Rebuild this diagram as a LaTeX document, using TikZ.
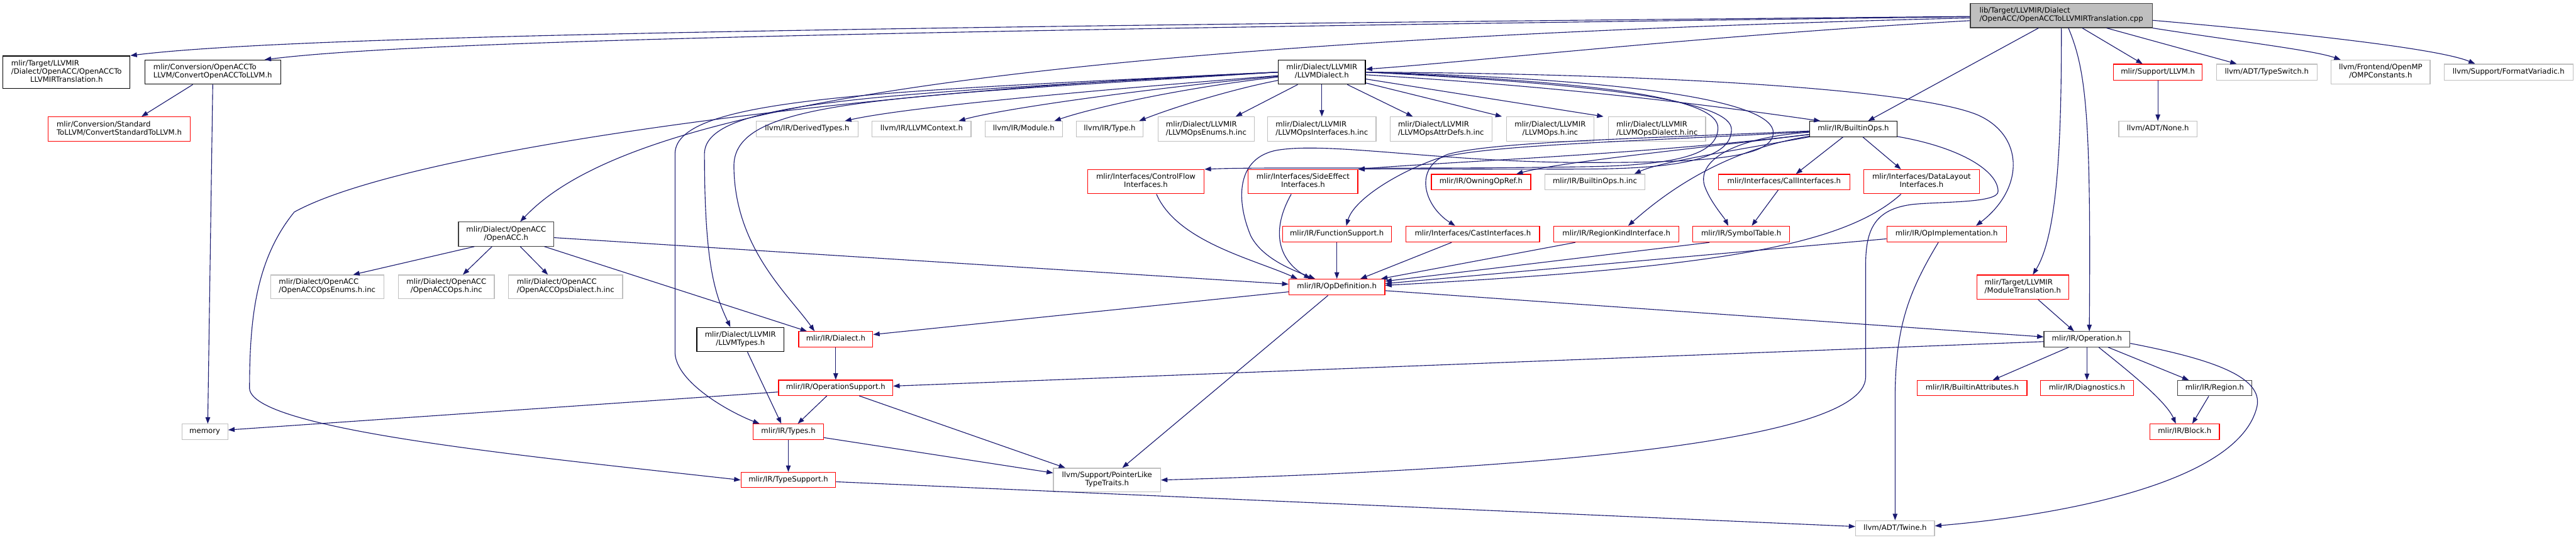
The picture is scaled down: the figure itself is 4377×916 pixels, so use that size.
\documentclass[tikz,border=0pt]{standalone}
\usepackage{fontspec}
\setmainfont{DejaVu Sans}
\usetikzlibrary{arrows.meta}
\definecolor{edgecol}{HTML}{191970}
\definecolor{redb}{HTML}{FF0000}
\definecolor{grayb}{HTML}{BFBFBF}
\definecolor{darkb}{HTML}{404040}
\newcommand{\lone}[1]{\begin{tabular}{@{}c@{}}#1\end{tabular}}
\newcommand{\ltwo}[2]{\begin{tabular}{@{}l@{}}#1\\\multicolumn{1}{@{}c@{}}{#2}\end{tabular}}
\newcommand{\lthree}[3]{\begin{tabular}{@{}l@{}}#1\\#2\\\multicolumn{1}{@{}c@{}}{#3}\end{tabular}}
\begin{document}
\begin{tikzpicture}[x=1pt,y=-1pt,
 nd/.style={draw, line width=1.3pt, fill=white, inner sep=0pt, font=\fontsize{12.5}{14}\selectfont, text=black},
 rn/.style={nd, draw=redb},
 gn/.style={nd, draw=grayb},
 bn/.style={nd, draw=black},
 dn/.style={nd, draw=darkb},
 sz/.style 2 args={minimum width=#1pt, minimum height=#2pt},
 e/.style={draw=edgecol, line width=1.2pt, -{Triangle[length=11pt,width=8pt]}},
]
\path[use as bounding box, fill=white] (0,0) rectangle (4377,916);

% nodes
\node[dn,sz={309}{41},fill=grayb] (root) at (3502.5,26.5) {\ltwo{lib/Target/LLVMIR/Dialect}{/OpenACC/OpenACCToLLVMIRTranslation.cpp}};
\node[bn,sz={216}{55}] (tr) at (113,122.5) {\lthree{mlir/Target/LLVMIR}{/Dialect/OpenACC/OpenACCTo}{LLVMIRTranslation.h}};
\node[bn,sz={231}{41}] (cv) at (361.5,122.5) {\ltwo{mlir/Conversion/OpenACCTo}{LLVM/ConvertOpenACCToLLVM.h}};
\node[rn,sz={241}{41}] (cs) at (202.5,219) {\ltwo{mlir/Conversion/Standard}{ToLLVM/ConvertStandardToLLVM.h}};
\node[bn,sz={148}{41}] (ld) at (2246,122.5) {\ltwo{mlir/Dialect/LLVMIR}{/LLVMDialect.h}};
\node[rn,sz={151}{27}] (ls) at (3666.5,122.5) {\lone{mlir/Support/LLVM.h}};
\node[gn,sz={171}{27}] (ts) at (3851.5,122.5) {\lone{llvm/ADT/TypeSwitch.h}};
\node[gn,sz={168}{41}] (om) at (4045,122.5) {\ltwo{llvm/Frontend/OpenMP}{/OMPConstants.h}};
\node[gn,sz={219}{27}] (fv) at (4262.5,122.5) {\lone{llvm/Support/FormatVariadic.h}};
\node[gn,sz={133}{26}] (no) at (3666.5,219) {\lone{llvm/ADT/None.h}};
\node[gn,sz={173}{26}] (dt) at (1371.5,219) {\lone{llvm/IR/DerivedTypes.h}};
\node[gn,sz={168}{26}] (lc) at (1566,219) {\lone{llvm/IR/LLVMContext.h}};
\node[gn,sz={131}{26}] (mo) at (1739.5,219) {\lone{llvm/IR/Module.h}};
\node[gn,sz={113}{26}] (ty) at (1885.5,219) {\lone{llvm/IR/Type.h}};
\node[gn,sz={163}{41}] (le) at (2049.5,219) {\ltwo{mlir/Dialect/LLVMIR}{/LLVMOpsEnums.h.inc}};
\node[gn,sz={184}{41}] (li) at (2246,219) {\ltwo{mlir/Dialect/LLVMIR}{/LLVMOpsInterfaces.h.inc}};
\node[gn,sz={173}{41}] (la) at (2448.5,219) {\ltwo{mlir/Dialect/LLVMIR}{/LLVMOpsAttrDefs.h.inc}};
\node[gn,sz={148}{41}] (lo) at (2634,219) {\ltwo{mlir/Dialect/LLVMIR}{/LLVMOps.h.inc}};
\node[gn,sz={165}{41}] (lD) at (2815.5,219) {\ltwo{mlir/Dialect/LLVMIR}{/LLVMOpsDialect.h.inc}};
\node[bn,sz={148}{26}] (bo) at (3149,219) {\lone{mlir/IR/BuiltinOps.h}};
\node[rn,sz={198}{41}] (cf) at (1947,308.5) {\ltwo{mlir/Interfaces/ControlFlow}{Interfaces.h}};
\node[rn,sz={186}{41}] (se) at (2214,308.5) {\ltwo{mlir/Interfaces/SideEffect}{Interfaces.h}};
\node[rn,sz={169}{26}] (own) at (2516.5,309) {\lone{mlir/IR/OwningOpRef.h}};
\node[gn,sz={170}{26}] (bi) at (2710,309) {\lone{mlir/IR/BuiltinOps.h.inc}};
\node[rn,sz={223}{26}] (ci) at (3031.5,309) {\lone{mlir/Interfaces/CallInterfaces.h}};
\node[rn,sz={196}{41}] (dl) at (3265,308.5) {\ltwo{mlir/Interfaces/DataLayout}{Interfaces.h}};
\node[rn,sz={185}{27}] (fs) at (2271.5,397.5) {\lone{mlir/IR/FunctionSupport.h}};
\node[rn,sz={227}{27}] (ca) at (2502.5,397.5) {\lone{mlir/Interfaces/CastInterfaces.h}};
\node[rn,sz={213}{27}] (rk) at (2746.5,397.5) {\lone{mlir/IR/RegionKindInterface.h}};
\node[rn,sz={165}{27}] (st) at (2958.5,397.5) {\lone{mlir/IR/SymbolTable.h}};
\node[rn,sz={203}{27}] (oi) at (3307.5,397.5) {\lone{mlir/IR/OpImplementation.h}};
\node[dn,sz={162}{41}] (oa) at (860,397.5) {\ltwo{mlir/Dialect/OpenACC}{/OpenACC.h}};
\node[gn,sz={192}{40}] (e1) at (556,487) {\ltwo{mlir/Dialect/OpenACC}{/OpenACCOpsEnums.h.inc}};
\node[gn,sz={163}{40}] (e2) at (758.5,487) {\ltwo{mlir/Dialect/OpenACC}{/OpenACCOps.h.inc}};
\node[gn,sz={194}{40}] (e3) at (961,487) {\ltwo{mlir/Dialect/OpenACC}{/OpenACCOpsDialect.h.inc}};
\node[rn,sz={163}{27}] (od) at (2271.5,487.5) {\lone{mlir/IR/OpDefinition.h}};
\node[rn,sz={156}{41}] (mt) at (3437,487.5) {\ltwo{mlir/Target/LLVMIR}{/ModuleTranslation.h}};
\node[bn,sz={148}{41}] (lt) at (1258,576.5) {\ltwo{mlir/Dialect/LLVMIR}{/LLVMTypes.h}};
\node[rn,sz={126}{26}] (di) at (1420,576) {\lone{mlir/IR/Dialect.h}};
\node[dn,sz={146}{26}] (op) at (3546,576) {\lone{mlir/IR/Operation.h}};
\node[rn,sz={194}{26}] (os) at (1420,658.5) {\lone{mlir/IR/OperationSupport.h}};
\node[rn,sz={186}{26}] (ba) at (3351,659) {\lone{mlir/IR/BuiltinAttributes.h}};
\node[rn,sz={158}{26}] (dg) at (3546,659) {\lone{mlir/IR/Diagnostics.h}};
\node[dn,sz={126}{26}] (rg) at (3763,659) {\lone{mlir/IR/Region.h}};
\node[gn,sz={78}{26}] (me) at (348,733) {\lone{memory}};
\node[rn,sz={119}{26}] (tp) at (1339.5,733) {\lone{mlir/IR/Types.h}};
\node[rn,sz={118}{26}] (bl) at (3712,733) {\lone{mlir/IR/Block.h}};
\node[rn,sz={161}{26}] (su) at (1339.5,815) {\lone{mlir/IR/TypeSupport.h}};
\node[gn,sz={182}{40}] (pl) at (1881,815) {\ltwo{llvm/Support/PointerLike}{TypeTraits.h}};
\node[gn,sz={134}{26}] (tw) at (3220,897) {\lone{llvm/ADT/Twine.h}};

% root edges
\draw[e] (root) .. controls (1500,45) and (500,60) .. (tr.north east);
\draw[e] (root) .. controls (1500,52) and (700,70) .. ([xshift=-28pt]cv.north east);
\draw[e] (root) .. controls (2900,60) and (2500,105) .. ([yshift=5pt]ld.east);
\draw[e] (root) .. controls (1600,75) and (1050,200) .. ([xshift=24pt]oa.north);
\draw[e] (root) -- (bo);
\draw[e] (root.south) .. controls (3503,250) and (3495,400) .. ([xshift=17pt]mt.north);
\draw[e] ([xshift=12pt]root.south) .. controls (3545,120) and (3553,200) .. ([xshift=4pt]op.north);
\draw[e] (root) -- ([xshift=-26pt]ls.north);
\draw[e] (root) -- ([xshift=-51pt]ts.north);
\draw[e] (root.south east) .. controls (3800,70) and (3930,85) .. ([xshift=-68pt]om.north);
\draw[e] ([yshift=-8pt]root.east) .. controls (3950,60) and (4150,85) .. ([xshift=-57pt]fv.north);
\draw[e] (ls) -- (no);

% conversion
\draw[e] ([xshift=-34pt]cv.south) -- ([xshift=38pt]cs.north);
\draw[e] (cv.south) -- ([xshift=5pt]me.north);

% LLVMDialect
\draw[e] (ld) .. controls (1900,150) and (1550,180) .. ([xshift=64pt]dt.north);
\draw[e] (ld) .. controls (1950,150) and (1700,185) .. ([xshift=63pt]lc.north);
\draw[e] (ld) .. controls (2000,150) and (1850,185) .. ([xshift=52pt]mo.north);
\draw[e] (ld) .. controls (2100,150) and (2000,180) .. ([xshift=50pt]ty.north);
\draw[e] (ld) -- ([xshift=50pt]le.north);
\draw[e] (ld) -- (li);
\draw[e] (ld) -- ([xshift=-48pt]la.north);
\draw[e] (ld) -- ([xshift=-82pt]lo.north);
\draw[e] (ld) -- ([xshift=-91pt]lD.north);
\draw[e] (ld) .. controls (2700,150) and (2950,185) .. ([xshift=-56pt]bo.north);
\draw[e] (ld.west) .. controls (1500,160) and (1200,170) .. (1197,260) .. controls (1197,450) and (1215,500) .. ([xshift=-17pt]lt.north);
\draw[e] (ld.west) .. controls (1500,165) and (1250,170) .. (1247,280) .. controls (1247,420) and (1340,500) .. ([xshift=-36pt]di.north);
\draw[e] (ld.west) .. controls (1500,155) and (1150,165) .. (1147,260) -- (1147,600) .. controls (1150,650) and (1240,700) .. ([xshift=-49pt]tp.north);
\draw[e] (ld.west) .. controls (1500,150) and (700,250) .. (500,360) .. controls (435,440) and (424,540) .. (424,660) .. controls (430,730) and (900,775) .. (su.west);
\draw[e] (ld.east) .. controls (2750,140) and (2919,170) .. (2919,217) .. controls (2919,262) and (2850,280) .. (2700,283) .. controls (2400,288) and (2150,283) .. (cf.north east);
\draw[e] (ld.east) .. controls (2760,145) and (2942,175) .. (2942,220) .. controls (2942,265) and (2870,286) .. (2700,287) .. controls (2500,288) and (2380,286) .. (se.north east);
\draw[e] (ld.east) .. controls (2800,135) and (3013,175) .. (3013,225) .. controls (3013,268) and (2900,276) .. (2700,276) .. controls (2450,276) and (2260,240) .. (2170,255) .. controls (2100,268) and (2100,340) .. (2125,400) .. controls (2145,440) and (2200,460) .. ([xshift=-37pt]od.north);
\draw[e] (ld.east) .. controls (2800,125) and (3250,150) .. (3360,195) .. controls (3440,230) and (3440,320) .. ([xshift=50pt]oi.north);

% BuiltinOps
\draw[e] (bo) .. controls (2900,250) and (2650,275) .. ([xshift=60pt]own.north);
\draw[e] (bo) .. controls (2950,255) and (2820,275) .. ([xshift=67pt]bi.north);
\draw[e] (bo) .. controls (2800,262) and (2450,275) .. (se.north east);
\draw[e] (bo) .. controls (2800,240) and (2520,245) .. (2440,270) .. controls (2370,295) and (2300,340) .. ([xshift=16pt]fs.north);
\draw[e] (bo) .. controls (2800,235) and (2540,240) .. (2460,262) .. controls (2400,285) and (2420,350) .. ([xshift=-30pt]ca.north);
\draw[e] (bo) .. controls (2960,250) and (2860,300) .. ([xshift=20pt]rk.north);
\draw[e] (bo) .. controls (2930,235) and (2880,280) .. (2898,320) .. controls (2908,345) and (2930,370) .. ([xshift=-22pt]st.north);
\draw[e] (bo) -- ([xshift=20pt]ci.north);
\draw[e] (bo) -- ([xshift=-35pt]dl.north);
\draw[e] (bo) .. controls (3330,250) and (3395,290) .. (3395,325) .. controls (3395,345) and (3300,342) .. (3250,347) .. controls (3185,355) and (3170,390) .. (3170,450) -- (3170,640) .. controls (3170,760) and (2500,800) .. (pl.east);
\draw[e] (ci) -- ([xshift=18pt]st.north);

% into OpDefinition
\draw[e] ([xshift=18pt]cf.south) .. controls (2000,410) and (2130,440) .. ([xshift=-67pt]od.north);
\draw[e] ([xshift=-20pt]se.south) .. controls (2160,390) and (2170,440) .. ([xshift=-45pt]od.north);
\draw[e] (fs) -- (od);
\draw[e] ([xshift=-36pt]ca.south) -- ([xshift=40pt]od.north);
\draw[e] ([xshift=-70pt]rk.south) -- ([xshift=75pt]od.north);
\draw[e] ([xshift=-54pt]st.south) -- ([yshift=10pt]od.east);
\draw[e] ([yshift=-8pt]oi.west) -- ([yshift=6pt]od.east);
\draw[e] ([xshift=-35pt]dl.south) .. controls (3130,420) and (2900,455) .. ([yshift=3pt]od.east);
\draw[e] ([xshift=-14pt]oi.south) .. controls (3240,500) and (3220,560) .. (3220,680) -- (tw.north);

% OpenACC
\draw[e] ([xshift=-54pt]oa.south) -- ([xshift=44pt]e1.north);
\draw[e] ([xshift=-24pt]oa.south) -- ([xshift=28pt]e2.north);
\draw[e] ([xshift=24pt]oa.south) -- ([xshift=-30pt]e3.north);
\draw[e] ([xshift=65pt]oa.south) -- ([xshift=-49pt]di.north);
\draw[e] ([yshift=-6pt]oa.east) -- ([yshift=5pt]od.west);

% lower part
\draw[e] ([xshift=12pt]lt.south) -- ([xshift=-12pt]tp.north);
\draw[e] (di) -- (os);
\draw[e] ([yshift=-7pt]os.west) -- ([yshift=3pt]me.east);
\draw[e] ([xshift=-15pt]os.south) -- ([xshift=16pt]tp.north);
\draw[e] ([xshift=40pt]os.south) -- ([xshift=-71pt]pl.north);
\draw[e] (tp) -- (su);
\draw[e] ([yshift=-10pt]tp.east) -- ([yshift=12pt]pl.west);
\draw[e] ([yshift=-3pt]su.east) -- ([yshift=3pt]tw.west);
\draw[e] ([xshift=-15pt]od.south) -- ([xshift=26pt]pl.north);
\draw[e] ([yshift=-8pt]od.west) -- ([yshift=8pt]di.east);
\draw[e] ([yshift=-6pt]od.east) -- ([yshift=4pt]op.west);
\draw[e] ([yshift=-4pt]op.west) -- ([yshift=3pt]os.east);
\draw[e] ([xshift=26pt]mt.south) -- ([xshift=-22pt]op.north);
\draw[e] ([xshift=-31pt]op.south) -- ([xshift=35pt]ba.north);
\draw[e] (op) -- (dg);
\draw[e] ([xshift=20pt]op.south) .. controls (3610,625) and (3680,680) .. ([xshift=-15pt]bl.north);
\draw[e] ([xshift=36pt]op.south) -- ([xshift=-44pt]rg.north);
\draw[e] ([xshift=-10pt]rg.south) -- ([xshift=13pt]bl.north);
\draw[e] ([yshift=-7pt]op.east) .. controls (3760,610) and (3845,640) .. (3835,690) .. controls (3805,820) and (3500,875) .. ([yshift=4pt]tw.east);
\end{tikzpicture}
\end{document}
